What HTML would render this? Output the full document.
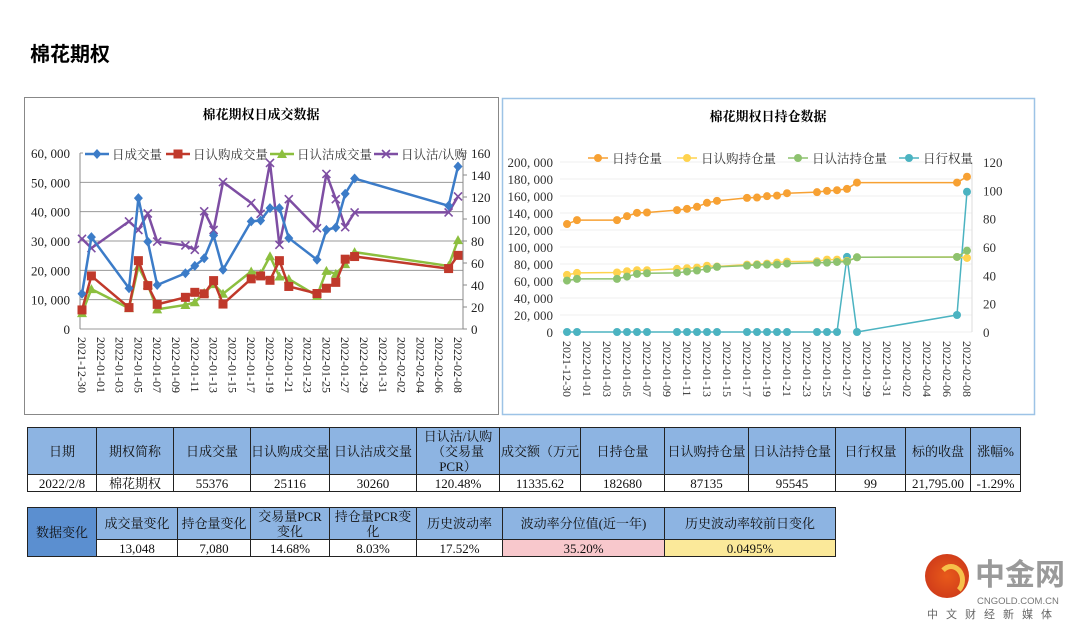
<!DOCTYPE html>
<html><head><meta charset="utf-8">
<style>
body{margin:0;width:1080px;height:631px;background:#fff;font-family:"Liberation Serif","Noto Serif CJK SC",serif;position:relative;overflow:hidden}
.abs{position:absolute}
table{border-collapse:collapse;position:absolute;font-family:"Liberation Serif","Noto Serif CJK SC",serif;font-size:13px;color:#111;table-layout:fixed}
td{border:1px solid #222;text-align:center;padding:0;line-height:15px;overflow:hidden;white-space:nowrap}
.h td{background:#8db4e2}
</style></head><body>
<div class="abs" style="left:30px;top:38px;font-size:20px;font-weight:bold;font-family:'Liberation Sans','Noto Sans CJK SC',sans-serif">棉花期权</div>
<svg class="abs" style="left:0;top:0" width="1080" height="420" id="svg" xmlns="http://www.w3.org/2000/svg"></svg>

<table style="left:27px;top:427px;width:993px">
<colgroup><col style="width:69px"><col style="width:77px"><col style="width:77px"><col style="width:79px"><col style="width:87px"><col style="width:83px"><col style="width:81px"><col style="width:84px"><col style="width:84px"><col style="width:87px"><col style="width:70px"><col style="width:65px"><col style="width:50px"></colgroup>
<tr class="h" style="height:47px"><td>日期</td><td>期权简称</td><td>日成交量</td><td>日认购成交量</td><td>日认沽成交量</td><td style="white-space:normal">日认沽/认购<br>（交易量<br>PCR）</td><td>成交额（万元</td><td>日持仓量</td><td>日认购持仓量</td><td>日认沽持仓量</td><td>日行权量</td><td>标的收盘</td><td>涨幅%</td></tr>
<tr style="height:17px"><td>2022/2/8</td><td>棉花期权</td><td>55376</td><td>25116</td><td>30260</td><td>120.48%</td><td>11335.62</td><td>182680</td><td>87135</td><td>95545</td><td>99</td><td>21,795.00</td><td>-1.29%</td></tr>
</table>

<table style="left:27px;top:507px;width:808px">
<colgroup><col style="width:69px"><col style="width:81px"><col style="width:73px"><col style="width:79px"><col style="width:87px"><col style="width:86px"><col style="width:162px"><col style="width:171px"></colgroup>
<tr class="h" style="height:32px"><td rowspan="2" style="background:#5b8fd0">数据变化</td><td>成交量变化</td><td>持仓量变化</td><td style="white-space:normal">交易量PCR<br>变化</td><td style="white-space:normal">持仓量PCR变<br>化</td><td>历史波动率</td><td>波动率分位值(近一年)</td><td>历史波动率较前日变化</td></tr>
<tr style="height:17px"><td>13,048</td><td>7,080</td><td>14.68%</td><td>8.03%</td><td>17.52%</td><td style="background:#f8c8cc">35.20%</td><td style="background:#fbe99a">0.0495%</td></tr>
</table>

<div class="abs" style="left:925px;top:554px;width:150px;height:70px">
<div class="abs" style="left:0;top:0;width:44px;height:44px;border-radius:50%;background:radial-gradient(circle at 50% 50%,#e85a1a,#c8321a)"></div>
<div class="abs" style="left:12px;top:10px;width:18px;height:22px;border:5px solid #f6c04a;border-radius:50%;border-left-color:transparent;border-bottom-color:transparent"></div>
<div class="abs" style="left:50px;top:6px;font-size:30px;font-weight:bold;color:#9a9a9a;font-family:'Liberation Sans','Noto Sans CJK SC',sans-serif;line-height:32px">中金网</div>
<div class="abs" style="left:52px;top:42px;font-size:9.5px;color:#777;font-family:'Liberation Sans',sans-serif">CNGOLD.COM.CN</div>
<div class="abs" style="left:2px;top:52px;font-size:11px;color:#666;letter-spacing:8px;font-family:'Liberation Sans','Noto Sans CJK SC',sans-serif">中文财经新媒体</div>
</div>

<script>
const dates=["2021-12-30","2021-12-31","2022-01-04","2022-01-05","2022-01-06","2022-01-07","2022-01-10","2022-01-11","2022-01-12","2022-01-13","2022-01-14","2022-01-17","2022-01-18","2022-01-19","2022-01-20","2022-01-21","2022-01-24","2022-01-25","2022-01-26","2022-01-27","2022-01-28","2022-02-07","2022-02-08"];
const volTotal=[12.0,31.3,13.9,44.6,29.8,15.0,19.0,21.5,24.1,31.9,20.2,36.7,37.0,41.2,41.2,31.0,23.6,33.8,34.6,46.1,51.3,42.0,55.4];
const volCall=[6.5,18.1,7.3,23.3,14.8,8.4,10.8,12.5,12.0,16.5,8.5,17.1,18.1,16.6,23.3,14.5,12.1,13.9,15.9,23.8,24.7,20.6,25.1];
const volPut=[5.4,13.6,7.1,21.3,15.0,6.7,8.2,9.1,12.3,15.3,12.0,19.6,18.8,24.8,17.9,17.0,11.3,19.8,18.8,22.1,26.2,21.5,30.3];
const volPcr=[82,73.5,97.8,90,105,79.5,76,72,107,90,133.6,114.5,104.7,151,76.5,118,91.7,141,118,92.6,106,106,120.5];
const oiTotal=[127,131.6,131.6,136.3,140.2,140.6,143.4,144.9,147.3,152,154.3,157.8,158.2,159.8,160.5,163.3,164.5,166,166.8,168.4,175.8,175.8,182.7];
const oiCall=[67.2,69.5,70,71.5,72.7,72.7,74.2,75,75.8,78,77,79.3,79.7,80.5,81.6,82.8,83.2,85.2,85.2,83.6,87.9,88.3,87.1];
const oiPut=[60.5,62.5,62.5,65.2,68.4,69.1,69.5,71.1,72.3,74.2,76.6,78.1,78.9,79.3,79.3,80.5,81.6,81.6,82.4,82.8,87.9,88.3,95.7];
const exercise=[0,0,0,0,0,0,0,0,0,0,0,0,0,0,0,0,0,0,0,53,0,12,99];
const leftTicks=["0","10, 000","20, 000","30, 000","40, 000","50, 000","60, 000"];
const leftRightTicks=["0","20","40","60","80","100","120","140","160"];
const rightTicks=["0","20, 000","40, 000","60, 000","80, 000","100, 000","120, 000","140, 000","160, 000","180, 000","200, 000"];
const rightRightTicks=["0","20","40","60","80","100","120"];

const NS="http://www.w3.org/2000/svg";
const svg=document.getElementById('svg');
function el(t,a,p){const e=document.createElementNS(NS,t);for(const k in a)e.setAttribute(k,a[k]);(p||svg).appendChild(e);return e;}
function txt(s,a,p){const e=el('text',a,p);e.textContent=s;return e;}
const D0=Date.UTC(2021,11,30);
function day(s){const [y,m,d]=s.split('-').map(Number);return (Date.UTC(y,m-1,d)-D0)/864e5;}
const F='"Liberation Serif","Noto Serif CJK SC",serif';
const labelDays=[];for(let i=0;i<=40;i+=2)labelDays.push(i);
function lbl(d){const t=new Date(D0+d*864e5);return t.getUTCFullYear()+'-'+String(t.getUTCMonth()+1).padStart(2,'0')+'-'+String(t.getUTCDate()).padStart(2,'0');}

function marker(type,x,y,c,g){
  let m;
  if(type==='diamond')m=el('polygon',{points:`${x},${y-5} ${x+4.5},${y} ${x},${y+5} ${x-4.5},${y}`,fill:c},g);
  else if(type==='square')m=el('rect',{x:x-4.5,y:y-4.5,width:9,height:9,fill:c},g);
  else if(type==='tri')m=el('polygon',{points:`${x},${y-5} ${x+5},${y+4} ${x-5},${y+4}`,fill:c},g);
  else if(type==='x')m=el('path',{d:`M${x-4},${y-4}L${x+4},${y+4}M${x+4},${y-4}L${x-4},${y+4}`,stroke:c,'stroke-width':1.6},g);
  else m=el('circle',{cx:x,cy:y,r:4,fill:c},g);
  
  
}
function series(vals,X,Y,c,w,type,name){
  const g=el('g',{});
  
  
  const pts=vals.map((v,i)=>[X(day(dates[i])),Y(v)]);
  el('polyline',{points:pts.map(p=>p.join(',')).join(' '),fill:'none',stroke:c,'stroke-width':w,'stroke-linejoin':'round'},g);
  pts.forEach(p=>marker(type,p[0],p[1],c,g));
}

/* ---------- Left chart ---------- */
(function(){
  const g=el('g',{});
  
  
  el('rect',{x:24.5,y:97.5,width:474,height:317,fill:'#fff',stroke:'#888','stroke-width':1},g);
  txt('棉花期权日成交数据',{x:261,y:119,'font-size':13,'font-weight':'bold','text-anchor':'middle','font-family':F},g);
  const x0=82,x1=458,yb=329,yt=153;
  const X=d=>x0+d*(x1-x0)/40, Y=v=>yb-v/60*(yb-yt), Y2=v=>yb-v/160*(yb-yt);
  leftTicks.forEach((t,i)=>{const y=yb-i*(yb-yt)/6;
    el('line',{x1:80,x2:463,y1:y,y2:y,stroke:'#9a9a9a','stroke-width':1},g);
    txt(t,{x:70,y:y+5,'font-size':13,'text-anchor':'end','font-family':F,fill:'#222'},g);});
  el('line',{x1:80,x2:80,y1:yt,y2:yb,stroke:'#888'},g);
  el('line',{x1:463,x2:463,y1:yt,y2:yb,stroke:'#888'},g);
  labelDays.forEach(d=>txt(lbl(d),{x:0,y:0,transform:`translate(${X(d)-4},337) rotate(90)`,'font-size':12,'font-family':F,fill:'#222'},g));
  series(volPcr,X,Y2,'#7e4ea3',2.5,'x','series-pcr');
  series(volPut,X,Y,'#8cbf3f',2.5,'tri','series-put-volume');
  series(volCall,X,Y,'#c0392b',2.5,'square','series-call-volume');
  series(volTotal,X,Y,'#3c7cc8',2.5,'diamond','series-total-volume');
  const leg=[['日成交量','#3c7cc8','diamond',85],['日认购成交量','#c0392b','square',166],['日认沽成交量','#8cbf3f','tri',270],['日认沽/认购','#7e4ea3','x',374]];
  leg.forEach(l=>{const lg=el('g',{},g);
    
    
    el('rect',{x:l[3]-2,y:146,width:Math.min(l[0].length*13+30,461-l[3]),height:16,fill:'#fff'},lg);
    el('line',{x1:l[3],x2:l[3]+24,y1:154,y2:154,stroke:l[1],'stroke-width':2.5},lg);
    marker(l[2],l[3]+12,154,l[1],lg);
    txt(l[0],{x:l[3]+27,y:159,'font-size':12.5,'font-family':F,fill:'#333'},lg);});
  leftRightTicks.forEach((t,i)=>{const y=yb-i*(yb-yt)/8;
    el('line',{x1:463,x2:467,y1:y,y2:y,stroke:'#888'},g);
    el('rect',{x:468,y:y-7,width:24,height:14,fill:'#fff'},g);
    txt(t,{x:471,y:y+5,'font-size':13,'font-family':F,fill:'#222'},g);});
})();

/* ---------- Right chart ---------- */
(function(){
  const g=el('g',{});
  
  
  el('rect',{x:502.5,y:98.5,width:532,height:316,fill:'#fff',stroke:'#9dc3e6','stroke-width':1.5},g);
  txt('棉花期权日持仓数据',{x:768,y:121,'font-size':13,'font-weight':'bold','text-anchor':'middle','font-family':F},g);
  const x0=567,x1=967,yb=332,yt=162;
  const X=d=>x0+d*(x1-x0)/40, Y=v=>yb-v/200*(yb-yt), Y2=v=>yb-v/120*(yb-yt);
  rightTicks.forEach((t,i)=>{const y=yb-i*(yb-yt)/10;
    el('line',{x1:560,x2:972,y1:y,y2:y,stroke:'#efefef','stroke-width':1},g);
    txt(t,{x:553,y:y+5,'font-size':13,'text-anchor':'end','font-family':F,fill:'#333'},g);});
  rightRightTicks.forEach((t,i)=>{const y=yb-i*(yb-yt)/6;
    txt(t,{x:983,y:y+5,'font-size':13,'font-family':F,fill:'#333'},g);});
  el('line',{x1:972,x2:972,y1:yt,y2:yb,stroke:'#ddd'},g);
  labelDays.forEach(d=>txt(lbl(d),{x:0,y:0,transform:`translate(${X(d)-4},341) rotate(90)`,'font-size':12,'font-family':F,fill:'#333'},g));
  series(exercise,X,Y2,'#4bb3c1',1.5,'circle','series-exercise');
  series(oiCall,X,Y,'#ffd34e',1.5,'circle','series-call-oi');
  series(oiPut,X,Y,'#8dc26f',1.5,'circle','series-put-oi');
  series(oiTotal,X,Y,'#f7a133',1.5,'circle','series-total-oi');
  const leg=[['日持仓量','#f7a133',588],['日认购持仓量','#ffd34e',677],['日认沽持仓量','#8dc26f',788],['日行权量','#4bb3c1',899]];
  leg.forEach(l=>{const lg=el('g',{},g);
    
    
    el('line',{x1:l[2],x2:l[2]+20,y1:158,y2:158,stroke:l[1],'stroke-width':1.5},lg);
    marker('circle',l[2]+10,158,l[1],lg);
    txt(l[0],{x:l[2]+24,y:163,'font-size':12.5,'font-family':F,fill:'#333'},lg);});
})();
</script>
</body></html>
